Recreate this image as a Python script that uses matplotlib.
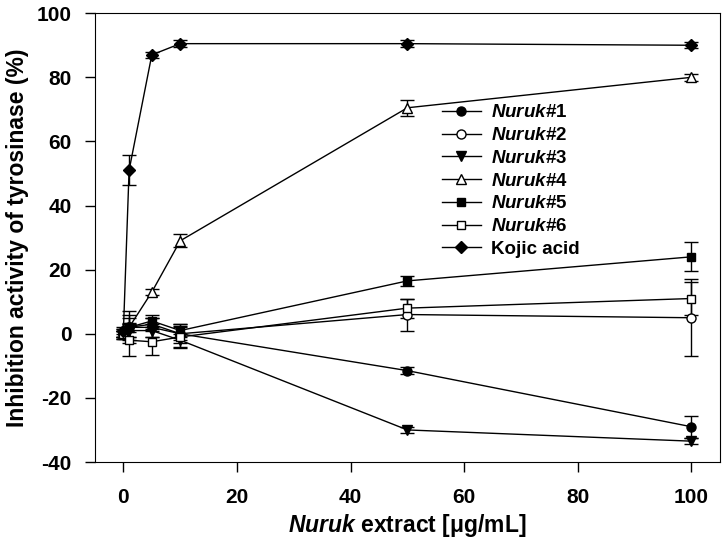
import numpy as np
import matplotlib
matplotlib.use('Agg')
import matplotlib.pyplot as plt
from matplotlib.lines import Line2D

# Concentraciones y valores
conc = [0, 1, 5, 10, 50, 100]

nuruk1 = [0, 2, 3, 0, -11.5, -29]
nuruk1_err = [1.5, 3, 2, 2, 1, 3.5]
nuruk2 = [0, 2, 2, 0, 6, 5]
nuruk2_err = [1.5, 4, 3, 3, 5, 12]
nuruk3 = [0, 1, 1, -2, -30, -33.5]
nuruk3_err = [1, 2, 2, 2, 1, 1]
nuruk4 = [0, 2, 13, 29, 70.5, 80]
nuruk4_err = [1, 1.5, 1, 2, 2.5, 1]
nuruk5 = [0, 2, 4, 1, 16.5, 24]
nuruk5_err = [1, 5, 2, 2, 1.5, 4.5]
nuruk6 = [0, -2, -2.5, -1, 8, 11]
nuruk6_err = [1, 5, 4, 3.5, 3, 5]
kojic = [1, 51, 87, 90.5, 90.5, 90]
kojic_err = [1, 4.7, 1, 1, 1, 1]

labels = [r'$\it{Nuruk}$#1', r'$\it{Nuruk}$#2', r'$\it{Nuruk}$#3',
          r'$\it{Nuruk}$#4', r'$\it{Nuruk}$#5', r'$\it{Nuruk}$#6', 'Kojic acid']

plt.rcParams['font.family'] = ['Liberation Sans', 'DejaVu Sans']
plt.rcParams['font.weight'] = 'bold'
plt.rcParams['axes.unicode_minus'] = False
plt.rcParams['mathtext.fontset'] = 'custom'
plt.rcParams['mathtext.it'] = 'Liberation Sans:bold:italic'
plt.rcParams['mathtext.rm'] = 'Liberation Sans:bold'

fig = plt.figure(figsize=(7.22, 5.5), dpi=100)
ax = fig.add_axes([0.1316, 0.16, 0.8654, 0.816])

series = [
    (nuruk1, nuruk1_err, 'o', 'black', 6.5),
    (nuruk2, nuruk2_err, 'o', 'white', 6.5),
    (nuruk3, nuruk3_err, 'v', 'black', 7),
    (nuruk4, nuruk4_err, '^', 'white', 7),
    (nuruk5, nuruk5_err, 's', 'black', 6),
    (nuruk6, nuruk6_err, 's', 'white', 6),
    (kojic, kojic_err, 'D', 'black', 6.5),
]

handles = []
for (y, err, m, fc, ms), lab in zip(series, labels):
    ax.errorbar(conc, y, yerr=err, fmt='-', color='black', marker=m,
                markerfacecolor=fc, markeredgecolor='black', markersize=ms,
                linewidth=1, elinewidth=1, capsize=5, capthick=1)
    handles.append(Line2D([], [], color='black', linewidth=1, marker=m,
                          markerfacecolor=fc, markeredgecolor='black',
                          markersize=ms, label=lab))

ax.set_xlim(-5, 105)
ax.set_ylim(-40, 100)
ax.set_xticks(np.arange(0, 101, 20))
ax.set_yticks(np.arange(-40, 101, 20))
ax.tick_params(axis='both', direction='out', length=7, width=1, labelsize=15)
ax.tick_params(axis='y', pad=10)
ax.tick_params(axis='x', pad=12)

ax.set_xlabel(r'$\it{Nuruk}$ extract [μg/mL]', fontsize=16.5, fontweight='bold', labelpad=3)
ax.set_ylabel('Inhibition activity of tyrosinase (%)', fontsize=16.5, fontweight='bold', labelpad=5)

ax.legend(handles=handles, loc='upper left', bbox_to_anchor=(0.54, 0.818),
          frameon=False, fontsize=13.5, handlelength=2.1, handletextpad=0.5,
          labelspacing=0.3, borderpad=0)

fig.savefig('out.png', dpi=100)
